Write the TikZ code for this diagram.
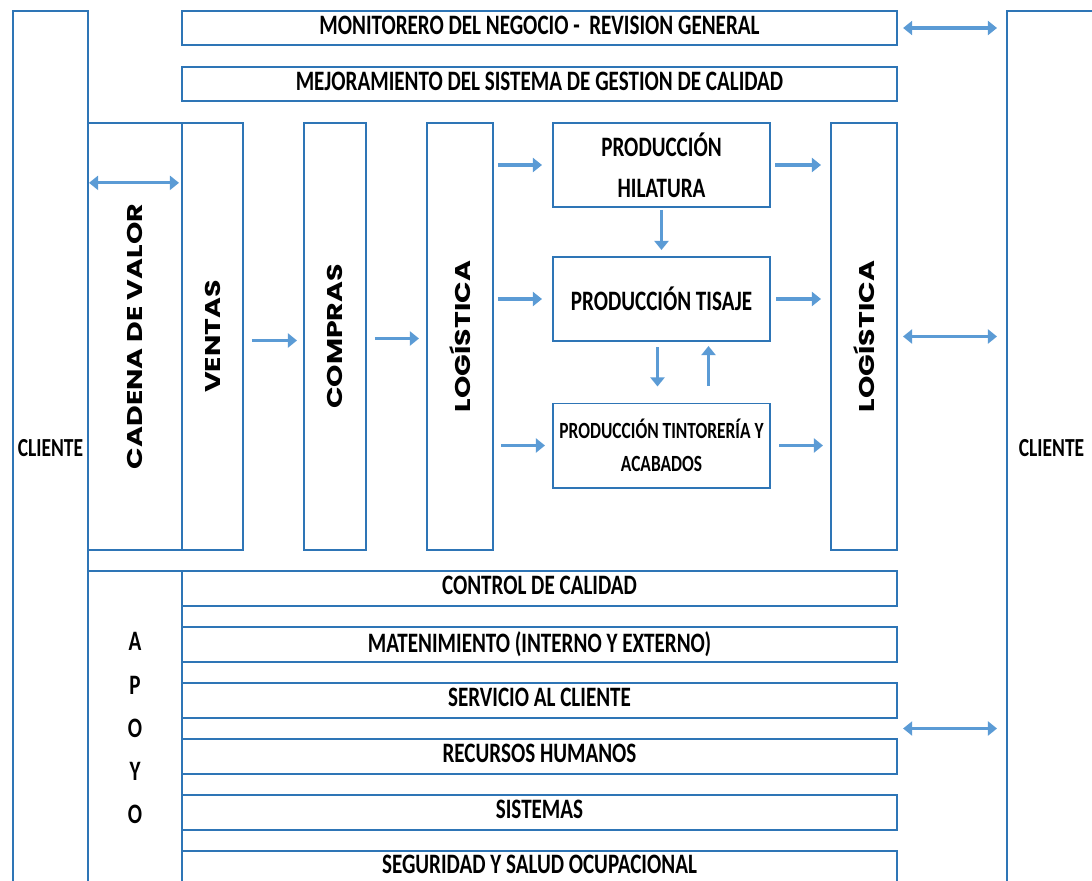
\documentclass[tikz,border=0pt]{standalone}
\usepackage{fontspec}
\usetikzlibrary{arrows.meta, calc}
\newfontfamily\lblfont{Carlito}[FakeStretch=0.75]
\newfontfamily\colfont{Poppins}[FakeStretch=1.33]
\definecolor{frameblue}{HTML}{2E75B6}
\definecolor{arrowblue}{HTML}{5B9BD5}

\begin{document}
\begin{tikzpicture}[
    x=0.025cm, y=-0.025cm,
    box/.style={draw=frameblue, line width=1.4pt, rectangle, inner sep=0pt, align=center, font=\lblfont\bfseries\fontsize{20}{29}\selectfont},
    bar/.style={box, minimum width=17.875cm, minimum height=0.86cm, text depth=4pt},
    column/.style={box, minimum height=10.675cm, font=\colfont\bfseries\fontsize{15.2}{18}\selectfont},
    prod/.style={box, minimum width=5.425cm, minimum height=2.1cm},
    side/.style={box, minimum height=21.85cm, font=\lblfont\bfseries\fontsize{18.5}{22}\selectfont},
    flow/.style={draw=arrowblue, line width=2.3pt, -{Triangle[length=6.5pt, width=10pt]}},
    both/.style={flow, {Triangle[length=6.5pt, width=10pt]}-{Triangle[length=6.5pt, width=10pt]}}
]
    \useasboundingbox (0,0) rectangle (1092,881);
    \clip (0,0) rectangle (1092,881);

    % ================= CLIENTES =================
    \node[side, minimum width=1.875cm] (CLIL) at (50.5, 448) {CLIENTE};
    \node[side, minimum width=2.225cm] (CLIR) at (1051.5, 448) {CLIENTE};

    % ================= DIRECCION =================
    \node[bar] (MON) at (539.5, 28) {MONITORERO DEL NEGOCIO -\ \ REVISION GENERAL};
    \node[bar] (MEJ) at (539.5, 84) {MEJORAMIENTO DEL SISTEMA DE GESTION DE CALIDAD};

    % ================= CADENA DE VALOR =================
    \node[column, minimum width=2.35cm] (CAD) at (135, 336.5) {\rotatebox{90}{CADENA DE VALOR}};
    \node[column, minimum width=1.525cm] (VEN) at (212.5, 336.5) {\rotatebox{90}{VENTAS}};
    \node[column, minimum width=1.55cm] (COM) at (335, 336.5) {\rotatebox{90}{COMPRAS}};
    \node[column, minimum width=1.65cm] (LOG1) at (460, 336.5) {\rotatebox{90}{LOGÍSTICA}};
    \node[column, minimum width=1.65cm] (LOG2) at (864, 336.5) {\rotatebox{90}{LOGÍSTICA}};

    \node[prod] (HIL) at (661.5, 165) {PRODUCCIÓN\\HILATURA};
    \node[prod] (TIS) at (661.5, 299) {PRODUCCIÓN TISAJE};
    \node[prod, font=\lblfont\bfseries\fontsize{16.5}{23.5}\selectfont] (TIN) at (661.5, 445.5) {PRODUCCIÓN TINTORERÍA Y\\ACABADOS};

    % ================= APOYO =================
    \node[box, minimum width=2.35cm, minimum height=7.85cm, font=\lblfont\bfseries\fontsize{20}{30.6}\selectfont] (APO) at (135, 728) {A\\P\\O\\Y\\O};
    \node[bar] (CAL) at (539.5, 588.5) {CONTROL DE CALIDAD};
    \node[bar] (MAN) at (539.5, 644.5) {MATENIMIENTO (INTERNO Y EXTERNO)};
    \node[bar] (SER) at (539.5, 700.5) {SERVICIO AL CLIENTE};
    \node[bar] (RRH) at (539.5, 756.5) {RECURSOS HUMANOS};
    \node[bar] (SIS) at (539.5, 812.5) {SISTEMAS};
    \node[bar, text depth=5.5pt] (SEG) at (539.5, 868.5) {SEGURIDAD Y SALUD OCUPACIONAL};
    \coordinate (apoyomid) at ($(SER.east)!0.5!(RRH.east)$);

    % ================= FLECHAS =================
    \draw[both, shorten <=0.05cm, shorten >=0.05cm] ([yshift=3.84cm]CAD.west) -- ([yshift=3.84cm]VEN.west);
    \draw[both, shorten <=0.125cm, shorten >=0.225cm] (MON.east) -- (CLIR.west |- MON.east);
    \draw[both, shorten <=0.125cm, shorten >=0.225cm] (LOG2.east) -- (CLIR.west |- LOG2.east);
    \draw[both, shorten <=0.125cm, shorten >=0.225cm] (apoyomid) -- (CLIR.west |- apoyomid);

    \draw[flow, shorten <=0.2cm, shorten >=0.15cm] ([yshift=-0.1cm]VEN.east) -- ([yshift=-0.1cm]COM.west);
    \draw[flow, shorten <=0.2cm, shorten >=0.175cm] ([yshift=-0.05cm]COM.east) -- ([yshift=-0.05cm]LOG1.west);

    \draw[flow, shorten <=0.1cm, shorten >=0.25cm] (LOG1.east |- HIL.west) -- (HIL.west);
    \draw[flow, shorten <=0.1cm, shorten >=0.25cm] (LOG1.east |- TIS.west) -- (TIS.west);
    \draw[flow, shorten <=0.175cm, shorten >=0.175cm] (LOG1.east |- TIN.west) -- (TIN.west);

    \draw[flow, shorten <=0.1cm, shorten >=0.225cm] (HIL.east) -- (LOG2.west |- HIL.east);
    \draw[flow, shorten <=0.125cm, shorten >=0.225cm] (TIS.east) -- (LOG2.west |- TIS.east);
    \draw[flow, shorten <=0.2cm, shorten >=0.175cm] (TIN.east) -- (LOG2.west |- TIN.east);

    \draw[flow, shorten <=0.05cm, shorten >=0.15cm] (HIL.south) -- (TIS.north);
    \draw[flow, shorten <=0.125cm, shorten >=0.4cm] ([xshift=-0.1cm]TIS.south) -- ([xshift=-0.1cm]TIN.north);
    \draw[flow, shorten <=0.425cm, shorten >=0.1cm] ([xshift=1.175cm]TIN.north) -- ([xshift=1.175cm]TIS.south);

\end{tikzpicture}
\end{document}
